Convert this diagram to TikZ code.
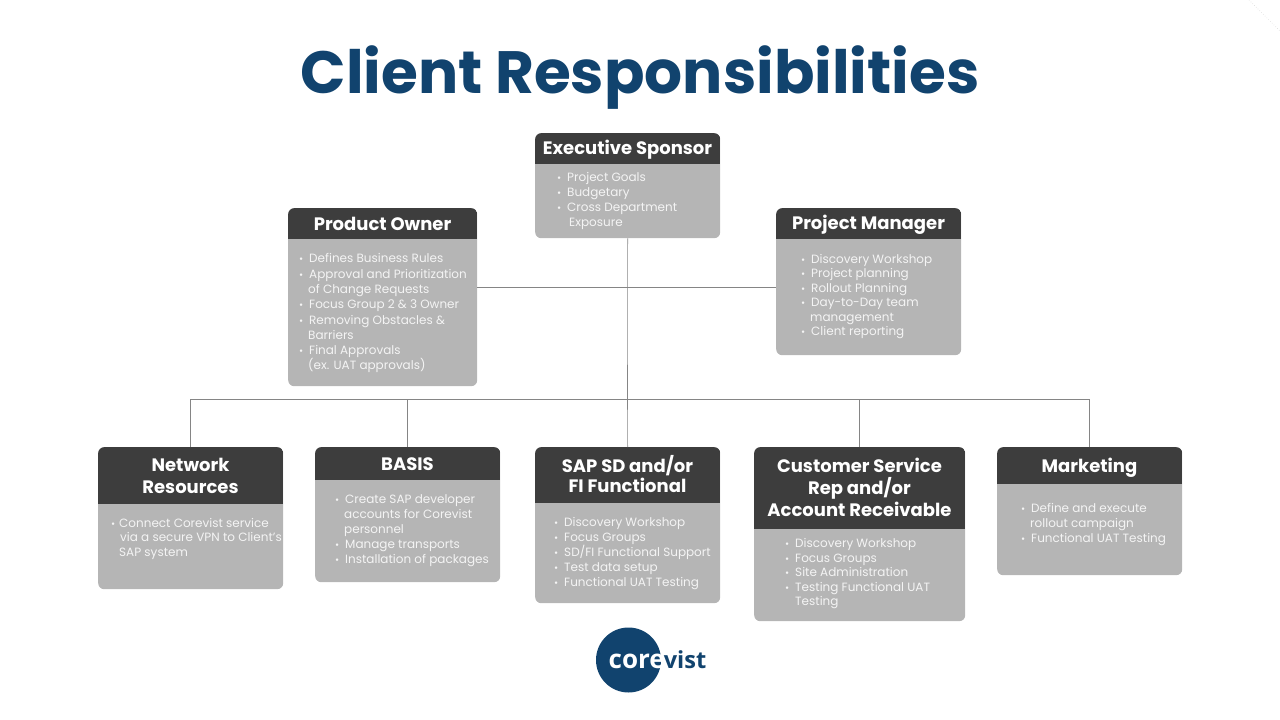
\documentclass[tikz,border=0pt]{standalone}
\usepackage{fontspec}
\setmainfont{Poppins}
\newfontfamily\logofont{Open Sans}
\definecolor{navy}{HTML}{11436E}
\definecolor{headdark}{HTML}{3D3D3D}
\definecolor{cardgray}{HTML}{B5B5B5}
\definecolor{linegray}{HTML}{858585}
\definecolor{listwhite}{HTML}{F4F4F4}
\newcommand{\bul}{\makebox[10pt][l]{\fontsize{10}{10}\selectfont\textbullet}}
\tikzset{
  card/.style={fill=cardgray, rounded corners=6pt, inner sep=0pt, anchor=north west,
    path picture={\fill[headdark, sharp corners] (path picture bounding box.north west) rectangle ([yshift=-#1]path picture bounding box.north east);}},
  headtext/.style={text=white, font=\fontsize{18}{22}\selectfont\bfseries, align=center, inner sep=0pt},
  listtext/.style={text=listwhite, font=\fontsize{12}{#1}\selectfont, align=left, inner sep=0pt, anchor=north west},
  listtext/.default={15pt},
  link/.style={draw=linegray, line width=0.6pt},
}
\begin{document}
\begin{tikzpicture}[x=1pt,y=-1pt]
\useasboundingbox (0,0) rectangle (1280,720);
% Title
\node[text=navy, font=\fontsize{59.7}{70}\selectfont\bfseries, inner sep=0pt] (title) at (640,78) {Client Responsibilities};
% Corner mark
\coordinate (marka) at (1249,0);
\coordinate (markb) at (1280,31);
\draw[cardgray!60, dotted, line width=0.5pt] (marka) -- (markb);
% Connectors
\coordinate (hub) at (627.5,287.5);
\coordinate (bus) at (627.5,399.5);
\node[card=31pt, minimum width=185pt, minimum height=105pt] (exec) at (535,133) {};
\node[card=31pt, minimum width=189pt, minimum height=178pt] (prod) at (288,208) {};
\node[card=31pt, minimum width=185pt, minimum height=147pt] (proj) at (776,208) {};
\node[card=57pt, minimum width=185pt, minimum height=142pt] (net) at (98,447) {};
\node[card=33pt, minimum width=185pt, minimum height=135pt] (basis) at (315,447) {};
\node[card=56pt, minimum width=185pt, minimum height=156pt] (sap) at (535,447) {};
\node[card=82pt, minimum width=211pt, minimum height=174pt] (cust) at (754,447) {};
\node[card=37pt, minimum width=185pt, minimum height=128pt] (mark) at (997,447) {};
\draw[link] (exec.south) -- (bus);
\draw[link] (prod.east |- hub) -- (proj.west |- hub);
\draw[link] (net.north) |- (bus);
\draw[link] (basis.north) |- (bus);
\draw[link] (sap.north) -- (bus);
\draw[link] (cust.north) |- (bus);
\draw[link] (mark.north) |- (bus);
% Headers
\node[headtext] (exechead) at (627.5,149.5) {Executive Sponsor};
\node[headtext] (prodhead) at (382.5,224) {Product Owner};
\node[headtext] (projhead) at (868.5,225) {Project Manager};
\node[headtext] (nethead) at (190.5,476) {Network\\Resources};
\node[headtext] (basishead) at (407.5,464) {BASIS};
\node[headtext] (saphead) at (627.5,474) {SAP SD and/or\\[-1.5pt]FI Functional};
\node[headtext] (custhead) at (859.5,487) {Customer Service\\Rep and/or\\Account Receivable};
\node[headtext] (markhead) at (1089.5,468) {Marketing};
% Lists
\node[listtext] (execlist) at (557,172) {\bul Project Goals\\\bul Budgetary\\\bul Cross Department\\\hspace*{12pt}Exposure};
\node[listtext=15.3pt] (prodlist) at (299,253.5) {\bul Defines Business Rules\\\bul Approval and Prioritization\\\hspace*{9pt}of Change Requests\\\bul Focus Group 2 \& 3 Owner\\\bul Removing Obstacles \&\\\hspace*{9pt}Barriers\\\bul Final Approvals\\\hspace*{9pt}(ex. UAT approvals)};
\node[listtext=14.5pt] (projlist) at (801,254) {\bul Discovery Workshop\\\bul Project planning\\\bul Rollout Planning\\\bul Day-to-Day team\\\hspace*{9pt}management\\\bul Client reporting};
\node[listtext=14.5pt] (netlist) at (111,518) {\makebox[8pt][l]{\fontsize{10}{10}\selectfont\textbullet}Connect Corevist service\\\hspace*{9pt}via a secure VPN to Client's\\\hspace*{8pt}SAP system};
\node[listtext] (basislist) at (335,494) {\bul Create SAP developer\\\hspace*{9pt}accounts for Corevist\\\hspace*{9pt}personnel\\\bul Manage transports\\\bul Installation of packages};
\node[listtext] (saplist) at (554,517) {\bul Discovery Workshop\\\bul Focus Groups\\\bul SD/FI Functional Support\\\bul Test data setup\\\bul Functional UAT Testing};
\node[listtext=14.5pt] (custlist) at (785,538.5) {\bul Discovery Workshop\\\bul Focus Groups\\\bul Site Administration\\\bul Testing Functional UAT\\\hspace*{10pt}Testing};
\node[listtext] (marklist) at (1021,503) {\bul Define and execute\\\hspace*{9pt}rollout campaign\\\bul Functional UAT Testing};
% Logo
\node[circle, fill=navy, minimum size=65pt, inner sep=0pt] (logodisc) at (628.5,660) {};
\node[font=\logofont\fontsize{26}{30}\selectfont\bfseries, inner sep=0pt, anchor=base west] (logotext) at (608.5,668) {\textcolor{white}{core}\kern-1pt\textcolor{navy}{\fontsize{23.5}{30}\selectfont vist}};
\end{tikzpicture}
\end{document}
